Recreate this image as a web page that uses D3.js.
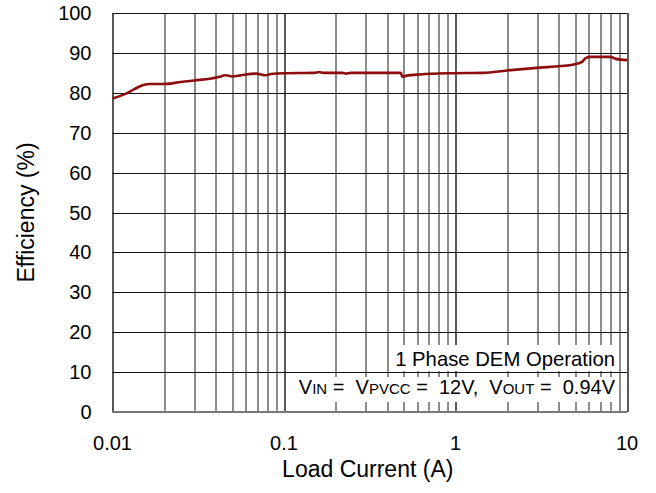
<!DOCTYPE html>
<html>
<head>
<meta charset="utf-8">
<script src="https://cdn.jsdelivr.net/npm/d3@7"></script>
<style>
  body { margin: 0; background: #fff; }
  text { font-family: Arial, "Liberation Sans", sans-serif; fill: #000; }
</style>
</head>
<body>
<svg id="chart" width="656" height="493"></svg>
<script>
// Load current (A) and efficiency (%)
const currents = [0.010, 0.012, 0.0135, 0.015, 0.0165, 0.020, 0.025, 0.030, 0.037, 0.042,
  0.0455, 0.050, 0.055, 0.060, 0.069, 0.078, 0.084, 0.10, 0.15, 0.16,
  0.17, 0.22, 0.23, 0.245, 0.48, 0.49, 0.52, 0.62, 0.93, 1.45,
  2.0, 3.1, 4.1, 4.9, 5.5, 5.7, 6.1, 8.0, 8.6, 10];
const efficiency = [78.6, 79.8, 81.0, 81.9, 82.2, 82.2, 82.7, 83.1, 83.5, 84.0,
  84.4, 84.1, 84.3, 84.6, 84.8, 84.4, 84.7, 84.9, 85.0, 85.2,
  85.0, 85.0, 84.8, 85.0, 85.0, 84.0, 84.3, 84.6, 84.9, 85.0,
  85.6, 86.3, 86.7, 87.1, 87.8, 88.6, 89.0, 89.0, 88.5, 88.2];

const xTicks = [0.01, 0.1, 1, 10];
const xTickLabels = ['0.01', '0.1', '1', '10'];
const yTicks = [0, 10, 20, 30, 40, 50, 60, 70, 80, 90, 100];

const margin = { top: 13, right: 29, bottom: 81, left: 112.5 };
const width = 656 - margin.left - margin.right;
const height = 493 - margin.top - margin.bottom;

const x = d3.scaleLog().domain([0.01, 10]).range([0, width]);
const y = d3.scaleLinear().domain([0, 100]).range([height, 0]);

const svg = d3.select('#chart');
const g = svg.append('g').attr('transform', `translate(${margin.left},${margin.top})`);

// Vertical grid: 1..9 per decade
const minor = [];
for (let d = 0.01; d < 10; d *= 10) {
  for (let k = 2; k <= 9; k++) minor.push(d * k);
}
g.selectAll('.vminor')
  .data(minor)
  .enter().append('line')
  .attr('x1', d => Math.round(x(d)) + 0.5)
  .attr('x2', d => Math.round(x(d)) + 0.5)
  .attr('y1', 0).attr('y2', height)
  .attr('stroke', '#1a1a1a').attr('stroke-width', 1);

g.selectAll('.vmajor')
  .data(xTicks)
  .enter().append('line')
  .attr('x1', d => Math.round(x(d)) + 0.5)
  .attr('x2', d => Math.round(x(d)) + 0.5)
  .attr('y1', 0).attr('y2', height)
  .attr('stroke', '#000').attr('stroke-width', 1.3);

g.selectAll('.hgrid')
  .data(yTicks)
  .enter().append('line')
  .attr('x1', 0).attr('x2', width)
  .attr('y1', d => Math.round(y(d)) + 0.5)
  .attr('y2', d => Math.round(y(d)) + 0.5)
  .attr('stroke', '#111').attr('stroke-width', 1);

// bottom axis line
g.append('line')
  .attr('x1', 0).attr('x2', width)
  .attr('y1', height).attr('y2', height)
  .attr('stroke', '#777').attr('stroke-width', 2);

// Annotation boxes (white background covers the grid)
g.append('rect').attr('x', 393 - margin.left).attr('y', 345 - margin.top)
  .attr('width', 224).attr('height', 26).attr('fill', '#fff');
g.append('rect').attr('x', 298 - margin.left).attr('y', 377 - margin.top)
  .attr('width', 319).attr('height', 25).attr('fill', '#fff');

// Efficiency curve
const line = d3.line()
  .x((d, i) => x(currents[i]))
  .y(d => y(d))
  .curve(d3.curveMonotoneX);

g.append('path')
  .datum(efficiency)
  .attr('d', line)
  .attr('fill', 'none')
  .attr('stroke', '#8c0d0d')
  .attr('stroke-width', 2.6)
  .attr('stroke-linejoin', 'round');

// Tick labels
g.selectAll('.ylab')
  .data(yTicks)
  .enter().append('text')
  .attr('x', -21).attr('y', d => y(d) + 7)
  .attr('text-anchor', 'end')
  .style('font-size', '20px')
  .text(d => d);

g.selectAll('.xlab')
  .data(xTicks)
  .enter().append('text')
  .attr('x', d => x(d)).attr('y', height + 38)
  .attr('text-anchor', 'middle')
  .style('font-size', '20px')
  .text((d, i) => xTickLabels[i]);

// Axis titles
svg.append('text')
  .attr('x', margin.left + width / 2 - 2).attr('y', 477)
  .attr('text-anchor', 'middle')
  .style('font-size', '23px')
  .text('Load Current (A)');

svg.append('text')
  .attr('transform', `translate(34,${margin.top + height / 2}) rotate(-90)`)
  .attr('text-anchor', 'middle')
  .style('font-size', '23px')
  .text('Efficiency (%)');

// Annotation text
svg.append('text')
  .attr('x', 615).attr('y', 366)
  .attr('text-anchor', 'end')
  .style('font-size', '20.3px')
  .text('1 Phase DEM Operation');

const note = svg.append('text')
  .attr('x', 615).attr('y', 394)
  .attr('text-anchor', 'end')
  .attr('xml:space', 'preserve')
  .style('font-size', '20px');
const parts = [
  ['V', 20], ['IN', 15], [' =  V', 20], ['PVCC', 15], [' =  12V,  V', 20], ['OUT', 15], [' =  0.94V', 20]
];
parts.forEach(p => {
  note.append('tspan').style('font-size', p[1] + 'px').text(p[0]);
});
</script>
</body>
</html>
